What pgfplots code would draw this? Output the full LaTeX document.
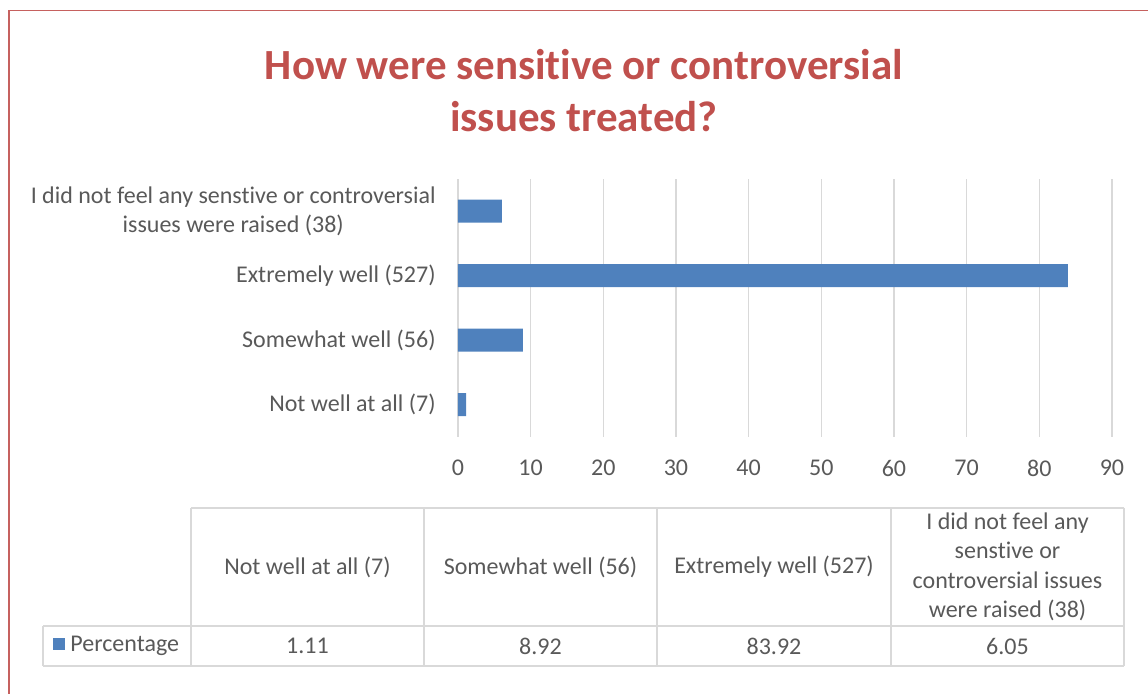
\documentclass[border=0pt]{standalone}
\usepackage{pgfplots}
\pgfplotsset{compat=1.18}
\usepackage{fontspec}
\setmainfont{Carlito}[Ligatures=NoCommon]
\definecolor{titlered}{HTML}{C0504D}
\definecolor{barblue}{HTML}{4F81BD}
\definecolor{txt}{HTML}{595959}
\definecolor{gridc}{HTML}{D9D9D9}
\newcommand{\lbl}{\fontsize{12}{14.7}\selectfont}
\begin{document}
\begin{tikzpicture}
\useasboundingbox (0,0) rectangle (574pt,-347pt);
\begin{axis}[
  at={(229pt,-218.5pt)}, anchor=south west,
  scale only axis, width=327pt, height=129pt,
  xmin=0, xmax=90, ymin=-0.5, ymax=3.5,
  xbar, bar width=11.5pt,
  xtick={0,10,...,90},
  ytick={0,1,2,3},
  yticklabels={{Not well at all (7)},{Somewhat well (56)},{Extremely well (527)},{I did not feel any senstive or controversial\\issues were raised (38)}},
  axis line style={draw=none},
  major tick length=0pt,
  xmajorgrids, grid style={gridc, line width=0.8pt},
  tick label style={font=\lbl, text=txt, inner sep=0pt},
  y tick label style={align=center, xshift=-11pt},
  x tick label style={yshift=-11.3pt},
  /pgf/number format/assume math mode=true,
  clip=false,
]
\addplot[fill=barblue, draw=none] coordinates {(1.11,0) (8.92,1) (83.92,2) (6.05,3)};
\end{axis}
\begin{scope}[x=0.5pt,y=-0.5pt]
\draw[titlered!90, line width=0.8pt] (9,694) -- (9,10.5) -- (1148,10.5);
\node[font=\fontsize{21.5}{26}\selectfont\bfseries, text=titlered, align=center] at (584,91) {How were sensitive or controversial\\issues treated?};
% table
\begin{scope}[draw=gridc, line width=0.8pt]
\draw (191,508) -- (1124,508);
\draw (43,626) -- (1124,626);
\draw (43,666) -- (1124,666);
\draw (43,626) -- (43,666);
\foreach \xx in {191,424,657,891,1124} {\draw (\xx,508) -- (\xx,666);}
\end{scope}
\begin{scope}[font=\lbl, text=txt]
\node at (307.5,567) {Not well at all (7)};
\node at (540.5,567) {Somewhat well (56)};
\node at (774,567) {Extremely well (527)};
\node[align=center] at (1007.5,567) {I did not feel any\\senstive or\\controversial issues\\were raised (38)};
\node at (307.5,646) {1.11};
\node at (540.5,646) {8.92};
\node at (774,646) {83.92};
\node at (1007.5,646) {6.05};
\fill[barblue] (53,638) rectangle (65,650);
\node[anchor=west, inner sep=0pt] at (70,646) {Percentage};
\end{scope}
\end{scope}
\end{tikzpicture}
\end{document}
